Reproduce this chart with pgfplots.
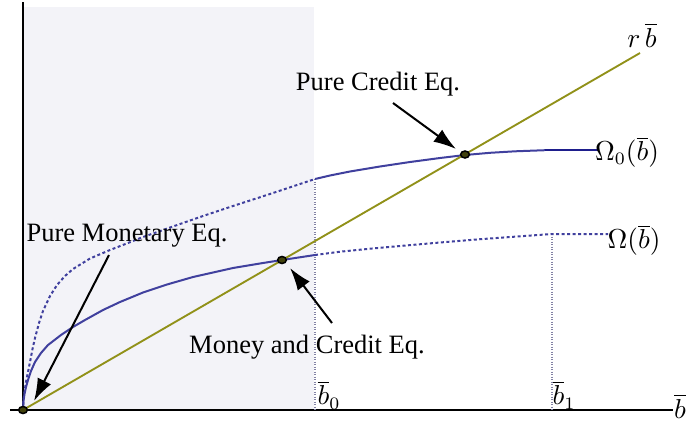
\documentclass[border=0pt]{standalone}
\usepackage{pgfplots}
\pgfplotsset{compat=1.18}
\usepackage{fontspec}
\setmainfont{Liberation Serif}
\usetikzlibrary{arrows.meta}
\definecolor{shadebg}{RGB}{243,243,248}
\definecolor{curve}{RGB}{64,64,158}
\definecolor{flatc}{RGB}{30,30,140}
\definecolor{olivel}{RGB}{145,145,25}
\definecolor{vdot}{RGB}{130,130,165}
\tikzset{lbl/.style={font=\fontsize{10.6}{12}\selectfont,inner sep=0pt},
  arr/.style={line width=0.8pt,-{Latex[length=9pt,width=6pt]}}}
\begin{document}
\begin{tikzpicture}
\begin{axis}[x=0.4pt,y=0.4pt,xmin=0,xmax=691,ymin=0,ymax=422,hide axis,clip=false]
\path (axis cs:0,0) rectangle (axis cs:691,422);
% shaded region
\addplot[fill=shadebg,draw=none] coordinates {(23,12) (314,12) (314,415) (23,415)} -- cycle;
% axes
\draw[line width=0.45pt] (axis cs:23,12) -- (axis cs:23,420);
\draw[line width=0.45pt] (axis cs:10,12) -- (axis cs:673,12);
% vertical dotted lines
\addplot[vdot,line width=0.5pt,dash pattern=on 0.4pt off 0.6pt] coordinates {(315,243) (315,12)};
\addplot[vdot,line width=0.5pt,dash pattern=on 0.4pt off 0.6pt] coordinates {(552,188) (552,12)};
% Omega0 dotted (upper)
\addplot[curve,line width=0.8pt,dash pattern=on 1.2pt off 1pt] coordinates {
(23,12) (23.5,22) (24.5,30) (26,40) (28,50) (30,60) (32.5,73) (35,84) (39,99) (43,111) (50,126) (57,137) (65,146) (73,153) (90,163.5) (110,172) (128,179) (143,185) (163,192) (180,198) (203,206) (233,216) (273,229) (315,243)};
% Omega0 solid
\addplot[curve,line width=0.8pt] coordinates {
(315,243) (330,246.5) (350,250.5) (380,255.5) (410,260) (440,264) (465,267) (490,269.2) (515,270.7) (545,271.8)};
\addplot[flatc,line width=0.9pt] coordinates {(545,272) (598,272)};
% Omega solid (lower)
\addplot[curve,line width=0.8pt] coordinates {
(23,12) (23.5,21) (24.5,28) (26,35) (28,42) (31,51) (35,60) (41,69) (48,77) (61,87) (73,95) (85,102) (103,112) (120,120) (143,129.5) (167,137.5) (193,145) (233,154) (263,159) (282,162) (315,167)};
% Omega dotted continuation
\addplot[curve,line width=0.8pt,dash pattern=on 1.2pt off 1pt] coordinates {
(315,167) (340,170.3) (370,173.3) (400,176) (440,179.5) (480,182.8) (520,185.7) (552,188) (608,188)};
% r b line
\addplot[olivel,line width=0.75pt] coordinates {(23,12) (640,369)};
% equilibrium points
\addplot[only marks,mark=*,mark size=1.4pt,mark options={fill=olivel!45!black,draw=black,line width=0.6pt,xscale=1.25}] coordinates {(23,12) (282,162) (465,267.5)};
% arrows
\draw[arr] (axis cs:393,319) -- (axis cs:456,273);
\draw[arr] (axis cs:109,167) -- (axis cs:34,21);
\draw[arr] (axis cs:332,99) -- (axis cs:290,154);
% labels
\node[lbl] at (axis cs:378,338) {Pure Credit Eq.};
\node[lbl] at (axis cs:127,186) {Pure Monetary Eq.};
\node[lbl] at (axis cs:307,75) {Money and Credit Eq.};
\node[lbl] at (axis cs:642,387) {$r\,\overline{b}$};
\node[lbl] at (axis cs:627,270) {$\Omega_0(\overline{b})$};
\node[lbl] at (axis cs:634,182) {$\Omega(\overline{b})$};
\node[lbl] at (axis cs:329,27) {$\overline{b}_0$};
\node[lbl] at (axis cs:564,27) {$\overline{b}_1$};
\node[lbl] at (axis cs:680,16) {$\overline{b}$};
\end{axis}
\end{tikzpicture}
\end{document}
